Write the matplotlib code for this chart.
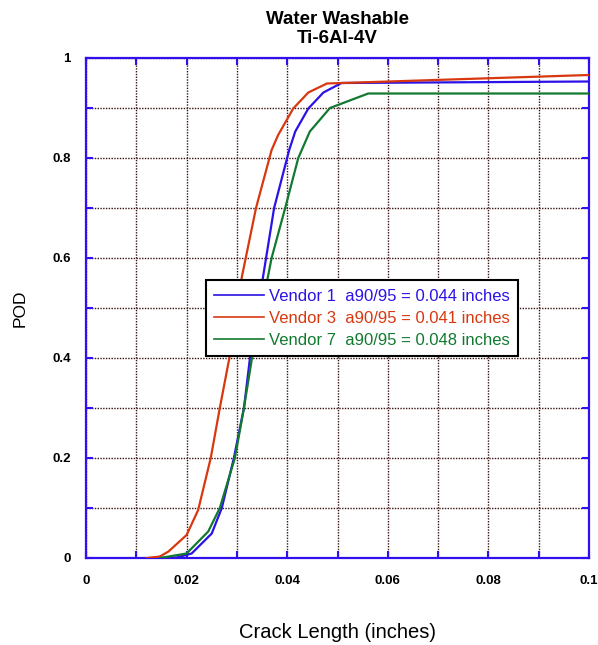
import matplotlib
matplotlib.use('Agg')
import matplotlib.pyplot as plt

plt.rcParams['font.family'] = ['Liberation Sans', 'DejaVu Sans']

# crack length (inches) vs POD
v1_x = [0.0147, 0.018, 0.021, 0.025, 0.027, 0.0294, 0.0314, 0.0326, 0.0358,
        0.0374, 0.0404, 0.0416, 0.0442, 0.0472, 0.0508, 0.1]
v1_y = [0, 0.001, 0.009, 0.049, 0.1, 0.2, 0.3, 0.4, 0.6,
        0.7, 0.816, 0.853, 0.899, 0.931, 0.95, 0.953]

v3_x = [0.0121, 0.0147, 0.0164, 0.020, 0.0223, 0.0248, 0.0266, 0.0285, 0.031,
        0.0338, 0.0369, 0.0382, 0.0412, 0.0442, 0.0479, 0.1]
v3_y = [0, 0.003, 0.013, 0.046, 0.096, 0.2, 0.3, 0.4, 0.563,
        0.7, 0.816, 0.846, 0.899, 0.931, 0.949, 0.966]

v7_x = [0.0147, 0.020, 0.0243, 0.0266, 0.0296, 0.0314, 0.033, 0.0369, 0.0396,
        0.0422, 0.0445, 0.0485, 0.0561, 0.1]
v7_y = [0, 0.009, 0.053, 0.1, 0.2, 0.3, 0.4, 0.6, 0.7,
        0.80, 0.853, 0.90, 0.929, 0.929]

labels = ['Vendor 1  a90/95 = 0.044 inches',
          'Vendor 3  a90/95 = 0.041 inches',
          'Vendor 7  a90/95 = 0.048 inches']
colors = ['#2b12e6', '#d8380f', '#127a30']
frame_blue = '#3010ee'

x_major = [0, 0.02, 0.04, 0.06, 0.08, 0.1]
x_major_lab = ['0', '0.02', '0.04', '0.06', '0.08', '0.1']
x_minor = [0.01, 0.03, 0.05, 0.07, 0.09]
y_major = [0, 0.2, 0.4, 0.6, 0.8, 1.0]
y_major_lab = ['0', '0.2', '0.4', '0.6', '0.8', '1']
y_minor = [0.1, 0.3, 0.5, 0.7, 0.9]

fig = plt.figure(figsize=(5.98, 6.45), dpi=100)
ax = fig.add_axes([86/598, 87/645, 503/598, 500/645])

for xs, ys, lab, c in zip([v1_x, v3_x, v7_x], [v1_y, v3_y, v7_y], labels, colors):
    ax.plot(xs, ys, color=c, lw=1.6, label=lab, zorder=3)

ax.set_xlim(0, 0.1)
ax.set_ylim(0, 1)
ax.set_xticks(x_major)
ax.set_xticklabels(x_major_lab)
ax.set_xticks(x_minor, minor=True)
ax.set_yticks(y_major)
ax.set_yticklabels(y_major_lab)
ax.set_yticks(y_minor, minor=True)

ax.grid(True, which='both', color='#3a1212', linestyle=(0, (1, 1)), lw=1.0)
ax.tick_params(which='both', direction='in', top=True, right=True,
               length=5, width=1.5, color=frame_blue)
ax.tick_params(axis='x', which='major', pad=12, labelsize=9.5)
ax.tick_params(axis='y', which='major', pad=11, labelsize=9.5)
for t in ax.get_xticklabels() + ax.get_yticklabels():
    t.set_fontweight('bold')
for s in ax.spines.values():
    s.set_color(frame_blue)
    s.set_linewidth(1.6)

ax.set_xlabel('Crack Length (inches)', fontsize=14.5, labelpad=26)
ax.set_ylabel('POD', fontsize=12.5)
ax.yaxis.set_label_coords(-0.117, 0.5)
ax.set_title('Water Washable\nTi-6Al-4V', fontsize=13.5, fontweight='bold',
             pad=11, linespacing=1.1)

leg = ax.legend(loc='upper left', bbox_to_anchor=(0.222, 0.572), fontsize=12,
                labelcolor='linecolor', frameon=True, fancybox=False,
                handlelength=3.0, handletextpad=0.3, borderpad=0.5,
                labelspacing=0.42, framealpha=1)
leg.get_frame().set_edgecolor('black')
leg.get_frame().set_linewidth(1.5)
for h in leg.get_lines():
    h.set_linewidth(1.2)

fig.savefig('out.png', dpi=100)
